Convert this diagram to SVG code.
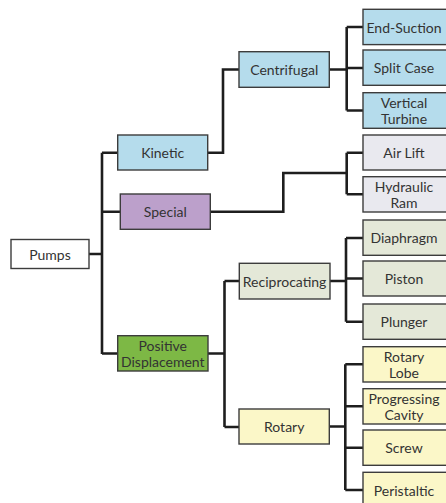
<svg xmlns="http://www.w3.org/2000/svg" width="446" height="503" viewBox="0 0 446 503">
  <style>
    .box { stroke: #3c3c3c; stroke-width: 1.4; }
    .lbl { font-family: Lato, "Open Sans", "Liberation Sans", sans-serif; font-size: 14px; fill: #333; text-anchor: middle; dominant-baseline: central; }
    .wire { fill: none; stroke: #1e1e1e; stroke-width: 2.6; stroke-linejoin: miter; }
    .root { fill: #ffffff; }
    .kin { fill: #b5dcec; }
    .spc { fill: #bca0cb; }
    .spl { fill: #e9e9ef; }
    .pd { fill: #7db845; }
    .rec { fill: #e4e8d8; }
    .rot { fill: #fbf7c8; }
  </style>
  <rect width="446" height="503" fill="#ffffff"/>

  <g id="connectors">
    <!-- Pumps to the three main classes -->
    <path class="wire" d="M89 254 H102 M102 152.7 V354 M102 152.7 H118 M102 211.7 H120.5 M102 353.5 H118"/>
    <!-- Kinetic to Centrifugal -->
    <path class="wire" d="M207.7 152.7 H223 V69.5 H239"/>
    <!-- Centrifugal to its kinds -->
    <path class="wire" d="M329.3 69.5 H346.7 M346.7 27 V110.5 M346.7 27 H363 M346.7 68 H363 M346.7 110.5 H363"/>
    <!-- Special to its kinds -->
    <path class="wire" d="M210.3 211.7 H283.3 V173 H346.7 M346.7 152.7 V194.3 M346.7 152.7 H363 M346.7 194.3 H363"/>
    <!-- Positive Displacement to Reciprocating and Rotary -->
    <path class="wire" d="M208 353.5 H224.5 M224.5 281 V427 M224.5 281 H239.3 M224.5 427 H239"/>
    <!-- Reciprocating to its kinds -->
    <path class="wire" d="M330 281 H346 M346 238 V321.7 M346 238 H363 M346 278.5 H363 M346 321.7 H363"/>
    <!-- Rotary to its kinds -->
    <path class="wire" d="M329.3 426.5 H345.3 M345.3 364.3 V490 M345.3 364.3 H363 M345.3 406.3 H363 M345.3 447.7 H363 M345.3 490 H363"/>
  </g>

  <g id="pumps">
    <rect class="box root" x="11" y="239.5" width="78" height="29"/>
    <text class="lbl" x="50" y="254">Pumps</text>
  </g>

  <g id="kinetic">
    <rect class="box kin" x="117.7" y="135" width="90" height="35"/>
    <text class="lbl" x="162.7" y="152.5">Kinetic</text>
  </g>
  <g id="special">
    <rect class="box spc" x="120.3" y="194" width="90" height="35.3"/>
    <text class="lbl" x="165.3" y="211.7">Special</text>
  </g>
  <g id="positive-displacement">
    <rect class="box pd" x="117.7" y="335.7" width="90.3" height="35.3"/>
    <text class="lbl" x="162.8" y="345.3">Positive</text>
    <text class="lbl" x="162.8" y="361.8">Displacement</text>
  </g>

  <g id="centrifugal">
    <rect class="box kin" x="239" y="51.7" width="90.3" height="35.6"/>
    <text class="lbl" x="284.2" y="69.5">Centrifugal</text>
  </g>
  <g id="reciprocating">
    <rect class="box rec" x="239.3" y="263.3" width="90.7" height="35.7"/>
    <text class="lbl" x="284.6" y="281">Reciprocating</text>
  </g>
  <g id="rotary">
    <rect class="box rot" x="239" y="409" width="90.3" height="35"/>
    <text class="lbl" x="284.2" y="426.5">Rotary</text>
  </g>

  <g id="end-suction">
    <rect class="box kin" x="363" y="9.3" width="86" height="35.3"/>
    <text class="lbl" x="404" y="27">End-Suction</text>
  </g>
  <g id="split-case">
    <rect class="box kin" x="363" y="50" width="86" height="35.3"/>
    <text class="lbl" x="404" y="67.7">Split Case</text>
  </g>
  <g id="vertical-turbine">
    <rect class="box kin" x="363" y="92.7" width="86" height="35.6"/>
    <text class="lbl" x="404" y="102">Vertical</text>
    <text class="lbl" x="404" y="118.5">Turbine</text>
  </g>
  <g id="air-lift">
    <rect class="box spl" x="363" y="135" width="86" height="35"/>
    <text class="lbl" x="404" y="152.5">Air Lift</text>
  </g>
  <g id="hydraulic-ram">
    <rect class="box spl" x="363" y="176.7" width="86" height="35.3"/>
    <text class="lbl" x="404" y="186">Hydraulic</text>
    <text class="lbl" x="404" y="202.5">Ram</text>
  </g>
  <g id="diaphragm">
    <rect class="box rec" x="363" y="220" width="86" height="35.3"/>
    <text class="lbl" x="404" y="237.7">Diaphragm</text>
  </g>
  <g id="piston">
    <rect class="box rec" x="363" y="261" width="86" height="35"/>
    <text class="lbl" x="404" y="278.5">Piston</text>
  </g>
  <g id="plunger">
    <rect class="box rec" x="363" y="304" width="86" height="35.3"/>
    <text class="lbl" x="404" y="321.7">Plunger</text>
  </g>
  <g id="rotary-lobe">
    <rect class="box rot" x="363" y="346.7" width="86" height="35.3"/>
    <text class="lbl" x="404" y="356">Rotary</text>
    <text class="lbl" x="404" y="372.5">Lobe</text>
  </g>
  <g id="progressing-cavity">
    <rect class="box rot" x="363" y="388.7" width="86" height="35.3"/>
    <text class="lbl" x="404" y="398">Progressing</text>
    <text class="lbl" x="404" y="414.5">Cavity</text>
  </g>
  <g id="screw">
    <rect class="box rot" x="363" y="430" width="86" height="35.3"/>
    <text class="lbl" x="404" y="447.7">Screw</text>
  </g>
  <g id="peristaltic">
    <rect class="box rot" x="363" y="472.3" width="86" height="35.3"/>
    <text class="lbl" x="404" y="490">Peristaltic</text>
  </g>
</svg>
